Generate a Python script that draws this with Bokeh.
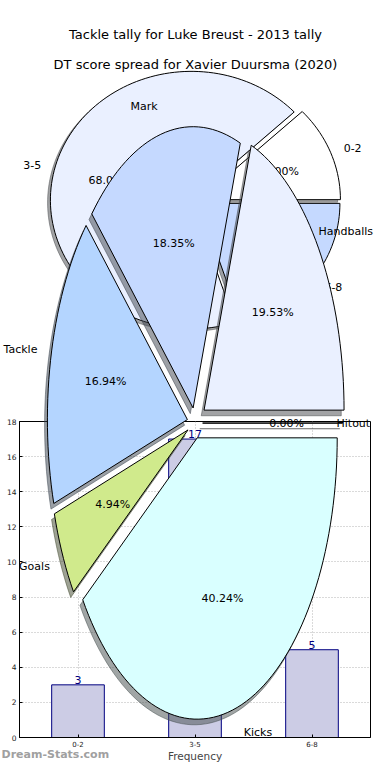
import numpy as np
from bokeh.plotting import figure
from bokeh.models import Range1d, FixedTicker, CoordinateMapping, LinearScale
from bokeh.core.properties import value
from bokeh.embed import file_html
from bokeh.resources import INLINE

# ---------------- data ----------------
bar_categories = ["0-2", "3-5", "6-8"]
bar_values = [3, 17, 5]
y_ticks = [0, 2, 4, 6, 8, 10, 12, 14, 16, 18]
x_label = "Frequency"

pie1_title = "Tackle tally for Luke Breust - 2013 tally"
pie1_labels = ["0-2", "3-5", "6-8"]
pie1_values = [3, 17, 5]

pie2_title = "DT score spread for Xavier Duursma (2020)"
pie2_labels = ["Handballs", "Mark", "Tackle", "Goals", "Kicks", "Hitout"]
pie2_values = [19.53, 18.35, 16.94, 4.94, 40.24, 0.00]

watermark = "Dream-Stats.com"

# ---------------- styles ----------------
pie1_colors = ["#ffffff", "#eaf0ff", "#c5d9ff"]
pie1_explode = [0.03, 0.03, 0.03]
pie2_colors = ["#eaf0ff", "#c5d9ff", "#b4d5ff", "#d0ea8c", "#d9ffff", "#ffffff"]
pie2_explode = [0.08, 0.055, 0.055, 0.055, 0.055, 0.055]
FONT = value("DejaVu Sans")

# layout (pixel coordinates of the canvas)
W, H = 374, 764
FL, FT, FR, FB = 19, 421, 370, 740          # bar-chart frame
PIE1 = dict(cx=195.0, cy=198.5, rx=141.0, ry=130.0)
PIE2 = dict(cx=194.4, cy=422.6, rx=140.0, ry=284.0)
XMAX, YMAX = len(bar_categories), 18

p = figure(width=W, height=H,
           x_range=Range1d(0, XMAX),
           y_range=Range1d(0, YMAX),
           output_backend="svg", toolbar_location=None,
           min_border_left=FL, min_border_right=W - FR,
           min_border_top=FT, min_border_bottom=H - FB)
p.background_fill_color = "white"
p.border_fill_color = "white"
p.outline_line_color = "black"
p.outline_line_width = 1


def pie_ranges(g):
    xr = Range1d((FL - g["cx"]) / g["rx"], (FR - g["cx"]) / g["rx"])
    yr = Range1d((g["cy"] - FB) / g["ry"], (g["cy"] - FT) / g["ry"])
    return xr, yr


def pie_to_main(g, u, v):
    """pie unit coordinates -> bar-chart data coordinates (both linear)."""
    X = g["cx"] + np.asarray(u, dtype=float) * g["rx"]
    Y = g["cy"] - np.asarray(v, dtype=float) * g["ry"]
    return (X - FL) / (FR - FL) * XMAX, (FB - Y) / (FB - FT) * YMAX


def pie_mapping(g, ext=1.4):
    (x0, x1), (y0, y1) = pie_to_main(g, [-ext, ext], [-ext, ext])
    return CoordinateMapping(
        x_source=Range1d(-ext, ext), y_source=Range1d(-ext, ext),
        x_scale=LinearScale(), y_scale=LinearScale(),
        x_target=Range1d(float(x0), float(x1)),
        y_target=Range1d(float(y0), float(y1)))


p1x, p1y = pie_ranges(PIE1)
p2x, p2y = pie_ranges(PIE2)
p.extra_x_ranges = {"px": Range1d(FL, FR), "p1x": p1x, "p2x": p2x}
p.extra_y_ranges = {"py": Range1d(FB, FT), "p1y": p1y, "p2y": p2y}

# ---------------- bar chart ----------------
bar_x = [i + 0.5 for i in range(len(bar_categories))]
p.vbar(x=bar_x, top=bar_values, width=0.45,
       fill_color="#ccccE5", line_color="#000080", line_width=1)
p.text(x=bar_x, y=bar_values, text=[str(v) for v in bar_values],
       text_align="center", text_baseline="bottom", y_offset=-1,
       text_color="#000080", text_font=FONT, text_font_size="11px")

p.xaxis.ticker = FixedTicker(ticks=bar_x)
p.xaxis.major_label_overrides = {x: c for x, c in zip(bar_x, bar_categories)}
p.xaxis.axis_label = x_label
p.xaxis.axis_label_text_font = "DejaVu Sans"
p.xaxis.axis_label_text_font_size = "10.5px"
p.xaxis.axis_label_text_font_style = "normal"
p.xaxis.axis_label_standoff = 0
p.xaxis.major_label_text_font_size = "7px"
p.xaxis.major_label_standoff = 3
p.yaxis.ticker = FixedTicker(ticks=y_ticks)
p.yaxis.major_label_text_font_size = "7.5px"
p.yaxis.major_label_standoff = 3
for ax in (p.xaxis, p.yaxis):
    ax.major_label_text_font = "DejaVu Sans"
    ax.major_label_text_color = "#222222"
    ax.major_tick_out = 0
    ax.major_tick_in = 3
    ax.minor_tick_line_color = None
    ax.axis_line_color = "black"
    ax.major_tick_line_color = "black"

p.grid.grid_line_color = "#b5b5b5"
p.grid.grid_line_dash = "1 2"
p.grid.grid_line_width = 1


# ---------------- pies ----------------
def pie_geometry(vals, explode, n=180):
    vals = np.asarray(vals, dtype=float)
    frac = vals / vals.sum()
    edges = np.concatenate([[0.0], np.cumsum(frac)]) * 2 * np.pi
    xs, ys, lx, ly, tx, ty, pct = [], [], [], [], [], [], []
    for i in range(len(vals)):
        t1, t2 = edges[i], edges[i + 1]
        m = 0.5 * (t1 + t2)
        ox, oy = explode[i] * np.cos(m), explode[i] * np.sin(m)
        k = max(2, int(n * (t2 - t1) / (2 * np.pi)) + 2)
        arc = np.linspace(t1, t2, k)
        xs.append(np.concatenate([[ox], ox + np.cos(arc)]))
        ys.append(np.concatenate([[oy], oy + np.sin(arc)]))
        lx.append(ox + 1.1 * np.cos(m))
        ly.append(oy + 1.1 * np.sin(m))
        tx.append(ox + 0.6 * np.cos(m))
        ty.append(oy + 0.6 * np.sin(m))
        pct.append("%.2f%%" % (100 * frac[i]))
    return xs, ys, lx, ly, tx, ty, pct


def shade(c):
    c = c.lstrip("#")
    r, g, b = (int(c[i:i + 2], 16) for i in (0, 2, 4))
    return "#%02x%02x%02x" % (int(r * 0.3), int(g * 0.3), int(b * 0.3))


def draw_pie(labels, vals, colors, explode, xr, yr, geo, poly_level, text_level):
    xs, ys, lx, ly, tx, ty, pct = pie_geometry(vals, explode)
    rng = dict(x_range_name=xr, y_range_name=yr)
    sc = [shade(c) for c in colors]
    r_sh = p.patches([list(x - 0.02) for x in xs], [list(y - 0.02) for y in ys],
                     fill_color=sc, fill_alpha=0.5, line_color=sc, line_alpha=0.5,
                     line_width=1, level=poly_level)
    r_sh.coordinates = pie_mapping(geo)
    r_sl = p.patches([list(x) for x in xs], [list(y) for y in ys],
                     fill_color=colors, line_color="black", line_width=1,
                     level=poly_level)
    r_sl.coordinates = pie_mapping(geo)
    # keep outer labels inside the canvas
    lim = (W - 2 - geo["cx"]) / geo["rx"]
    left, right = [], []
    for i in range(len(lx)):
        if lx[i] >= 0:
            est = 6.0 * len(labels[i]) / geo["rx"]
            left.append((min(lx[i], lim - est), ly[i], labels[i]))
        else:
            right.append((lx[i], ly[i], labels[i]))
    for align, grp in (("left", left), ("right", right)):
        if grp:
            p.text(x=[g[0] for g in grp], y=[g[1] for g in grp],
                   text=[g[2] for g in grp], text_align=align,
                   text_baseline="middle", text_font=FONT, text_font_size="11px",
                   text_color="black", level=text_level, **rng)
    p.text(x=tx, y=ty, text=pct, text_align="center", text_baseline="middle",
           text_font=FONT, text_font_size="11px", text_color="black",
           level=text_level, **rng)


draw_pie(pie1_labels, pie1_values, pie1_colors, pie1_explode, "p1x", "p1y",
         PIE1, "guide", "guide")
draw_pie(pie2_labels, pie2_values, pie2_colors, pie2_explode, "p2x", "p2y",
         PIE2, "annotation", "overlay")

# ---------------- titles & watermark ----------------
p.text(x=[195, 195], y=[30, 61], text=[pie1_title, pie2_title],
       text_align="center", text_baseline="middle", text_font=FONT,
       text_font_size="13px", text_color="black",
       x_range_name="px", y_range_name="py", level="overlay")
p.text(x=[1], y=[757], text=[watermark], text_align="left",
       text_baseline="middle", text_font=FONT, text_font_size="11px",
       text_font_style="bold", text_color="#a0a0a0",
       x_range_name="px", y_range_name="py", level="overlay")

open("out.html", "w").write(file_html(p, INLINE))
